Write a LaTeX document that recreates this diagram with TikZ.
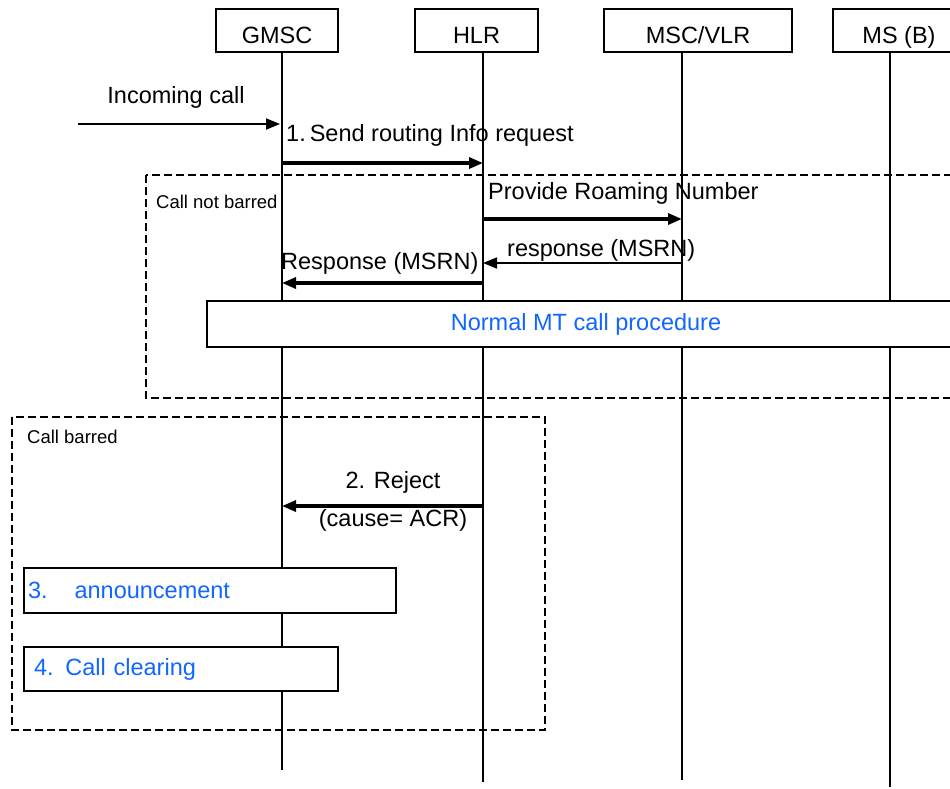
\documentclass[tikz,border=0pt]{standalone}
\usepackage{fontspec}
\setmainfont{Liberation Sans}
\usetikzlibrary{arrows.meta, positioning}
\definecolor{procblue}{RGB}{17,102,255}
\tikzset{
x=1pt, y=-1pt, % one unit is one pixel of the sketch, y runs downwards
>={Triangle[length=14pt, width=11pt]}, % filled arrow heads
entity/.style={draw, line width=2pt, minimum height=43pt, inner sep=0pt, text height=27pt, text depth=2pt, font=\fontsize{23.5}{28}\selectfont}, % the boxes on top
lifeline/.style={line width=1.7pt},
msg/.style={->, line width=3.2pt}, % bold messages
thinmsg/.style={->, line width=1.6pt},
msgtext/.style={inner sep=0pt, font=\fontsize{23.5}{28}\selectfont},
areatext/.style={inner sep=0pt, anchor=west, font=\fontsize{18.5}{22}\selectfont},
area/.style={line width=2.8pt, dash pattern=on 8pt off 4pt},
procbox/.style={draw, fill=white, line width=2pt, inner sep=0pt, text=procblue, font=\fontsize{23.5}{28}\selectfont},
}
\begin{document}
\begin{tikzpicture}
            \useasboundingbox (0,0) rectangle (950,788);

            \node[entity, minimum width=122pt] (gmsc) at (277,30.5) {GMSC};
            \node[entity, minimum width=123pt] (hlr) at (476.5,30.5) {HLR};
            \node[entity, minimum width=188pt] (vlr) at (698,30.5) {MSC/VLR};
            \node[entity, minimum width=132pt] (ms) at (899,30.5) {MS (B)};

            \coordinate (gmscTop) at (282,52);  \coordinate (gmscEnd) at (282,770);
            \coordinate (hlrTop) at (483,52);   \coordinate (hlrEnd) at (483,782);
            \coordinate (vlrTop) at (682,52);   \coordinate (vlrEnd) at (682,780);
            \coordinate (msTop) at (890,52);    \coordinate (msEnd) at (890,787);
            \draw[lifeline] (gmscTop) -- (gmscEnd);
            \draw[lifeline] (hlrTop) -- (hlrEnd);
            \draw[lifeline] (vlrTop) -- (vlrEnd);
            \draw[lifeline] (msTop) -- (msEnd);

            % areas
            \draw[area] (146,175) rectangle (962,398);
            \node[areatext] (notbarred) at (156,202) {Call not barred};
            \draw[area] (12,417) rectangle (545,730);
            \node[areatext] (barred) at (27,437) {Call barred};

            % message rows
            \coordinate (row0) at (0,124);
            \coordinate (row1) at (0,163);
            \coordinate (row2) at (0,219);
            \coordinate (row3) at (0,263);
            \coordinate (row4) at (0,283);
            \coordinate (row5) at (0,506);
            \coordinate (caller) at (78,124);

            \draw[thinmsg, line width=2pt] (caller) -- ([xshift=-2pt]gmscTop |- row0);
            \node[msgtext] (incoming) at (176,97) {Incoming call};

            \draw[msg] (gmscTop |- row1) -- (hlrTop |- row1);
            \node[msgtext, anchor=west] (sri) at (286,135) {1.\hspace{4pt}Send routing Info request};

            \draw[msg] (hlrTop |- row2) -- (vlrTop |- row2);
            \node[msgtext, anchor=west] (prn) at (488,193) {Provide Roaming Number};

            \draw[thinmsg] (vlrTop |- row3) -- (hlrTop |- row3);
            \node[msgtext, anchor=west] (prnack) at (507,250) {response (MSRN)};

            \draw[msg] (hlrTop |- row4) -- (gmscTop |- row4);
            \node[msgtext, anchor=west] (sriack) at (281,263) {Response (MSRN)};

            \node[procbox, minimum width=758pt, minimum height=46pt] (mt) at (586,324) {Normal MT call procedure};

            \draw[msg] (hlrTop |- row5) -- (gmscTop |- row5);
            \node[msgtext] (reject) at (393,482) {2. Reject};
            \node[msgtext] (cause) at (393,520) {(cause= ACR)};

            \node[procbox, anchor=north west, minimum width=372pt, minimum height=45pt, text width=364pt, inner xsep=4pt, align=left] (announce) at (23,567) {3.\hspace{27pt}announcement};
            \node[procbox, anchor=north west, minimum width=314pt, minimum height=44pt, text width=294pt, inner xsep=10pt, align=left] (clearing) at (23,646) {4. Call clearing};
\end{tikzpicture}
\end{document}
